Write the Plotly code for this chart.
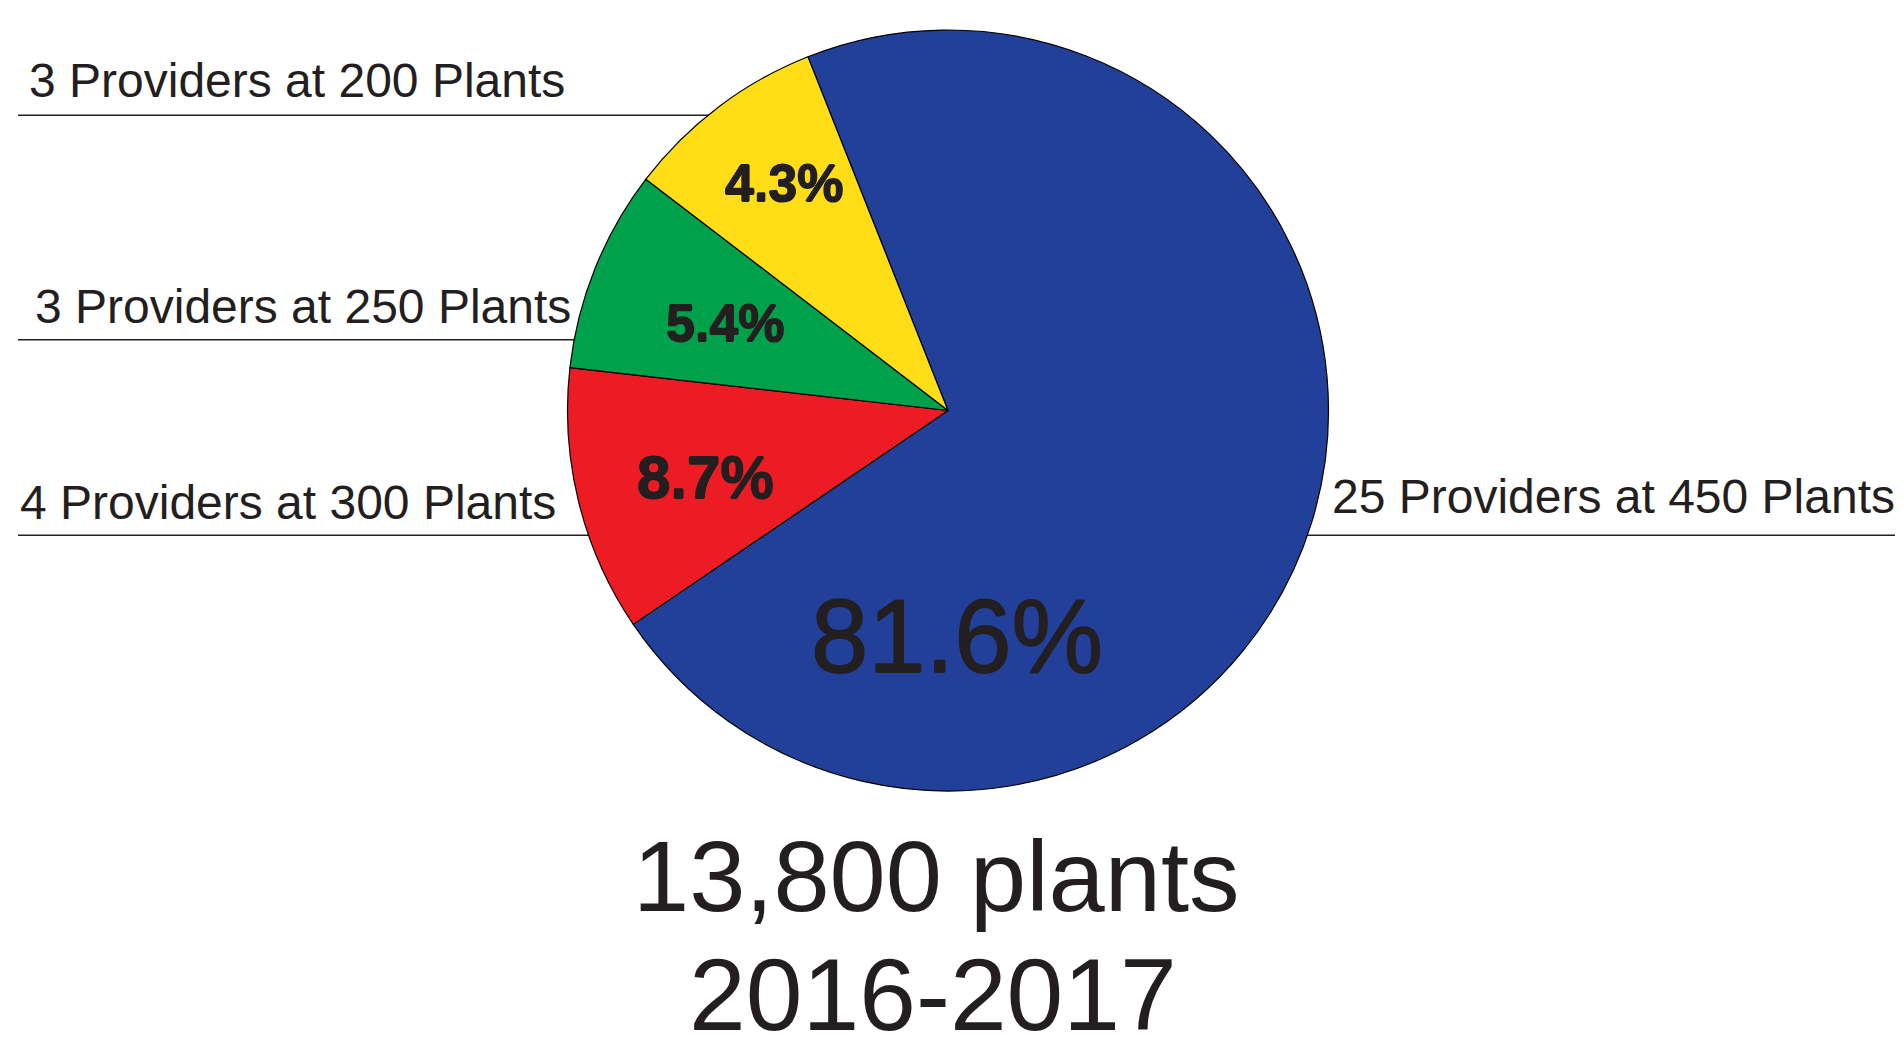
import plotly.graph_objects as go

# ---- data ----
segment_labels = [
    "25 Providers at 450 Plants",
    "4 Providers at 300 Plants",
    "3 Providers at 250 Plants",
    "3 Providers at 200 Plants",
]
pct_labels = ["81.6%", "8.7%", "5.4%", "4.3%"]
# slice sizes as drawn in the picture (share of the circle, %)
slice_share = [71.5, 11.3, 8.6, 8.6]
slice_colors = ["#22409A", "#ED1C24", "#00A14B", "#FFDE17"]
total_title = "13,800 plants"
period_title = "2016-2017"

# the page body has an 8px margin; size the figure so it fills the window
OFF = 8
W, H = 1903 - OFF, 1037 - OFF
TXT = "#231F20"
FONT = "Liberation Sans, Arial, Helvetica, sans-serif"
OUTLINE = "0.7px 0 0 #231F20, -0.7px 0 0 #231F20, 0 0.7px 0 #231F20, 0 -0.7px 0 #231F20"

def px(x):
    return (x - OFF) / W

def py(y):
    return 1 - (y - OFF) / H

cx, cy, r = 948, 410.5, 380.5

fig = go.Figure(
    go.Pie(
        labels=segment_labels,
        values=slice_share,
        sort=False,
        direction="clockwise",
        rotation=-21.6,
        marker=dict(colors=slice_colors, line=dict(color="#000000", width=1.2)),
        textinfo="none",
        hoverinfo="label",
        showlegend=False,
        domain=dict(x=[px(cx - r), px(cx + r)], y=[py(cy + r), py(cy - r)]),
    )
)

annotations = []
# outside category labels
label_pos = {
    "3 Providers at 200 Plants": (27, 80),
    "3 Providers at 250 Plants": (33, 306),
    "4 Providers at 300 Plants": (18, 502),
    "25 Providers at 450 Plants": (1330, 496),
}
for name in segment_labels:
    x, y = label_pos[name]
    annotations.append(dict(
        text=name, x=px(x), y=py(y), xref="paper", yref="paper",
        xanchor="left", yanchor="middle", showarrow=False,
        font=dict(family=FONT, size=48, color=TXT),
    ))

# percentage labels inside slices
pct_pos = [(957, 636, 103, False), (705, 477, 60, True), (725, 323, 52, True), (784, 183, 52, True)]
for t, (x, y, s, bold) in zip(pct_labels, pct_pos):
    annotations.append(dict(
        text=f"<b>{t}</b>" if bold else t, x=px(x), y=py(y), xref="paper", yref="paper",
        xanchor="center", yanchor="middle", showarrow=False,
        font=dict(family=FONT, size=s, color=TXT, shadow=OUTLINE),
    ))

annotations.append(dict(text=total_title, x=px(936), y=py(876), xref="paper", yref="paper",
                        xanchor="center", yanchor="middle", showarrow=False,
                        font=dict(family=FONT, size=101, color=TXT)))
annotations.append(dict(text=period_title, x=px(933), y=py(995), xref="paper", yref="paper",
                        xanchor="center", yanchor="middle", showarrow=False,
                        font=dict(family=FONT, size=102, color=TXT)))

line_style = dict(color=TXT, width=1.5)
shapes = [
    dict(type="line", xref="paper", yref="paper", x0=px(18), x1=px(cx), y0=py(115.3), y1=py(115.3), layer="below", line=line_style),
    dict(type="line", xref="paper", yref="paper", x0=px(18), x1=px(cx), y0=py(339.8), y1=py(339.8), layer="below", line=line_style),
    dict(type="line", xref="paper", yref="paper", x0=px(18), x1=1, y0=py(535.2), y1=py(535.2), layer="below", line=line_style),
]

fig.update_layout(
    width=W, height=H,
    margin=dict(l=0, r=0, t=0, b=0),
    paper_bgcolor="white", plot_bgcolor="white",
    annotations=annotations, shapes=shapes,
)

fig.write_html("out.html")
